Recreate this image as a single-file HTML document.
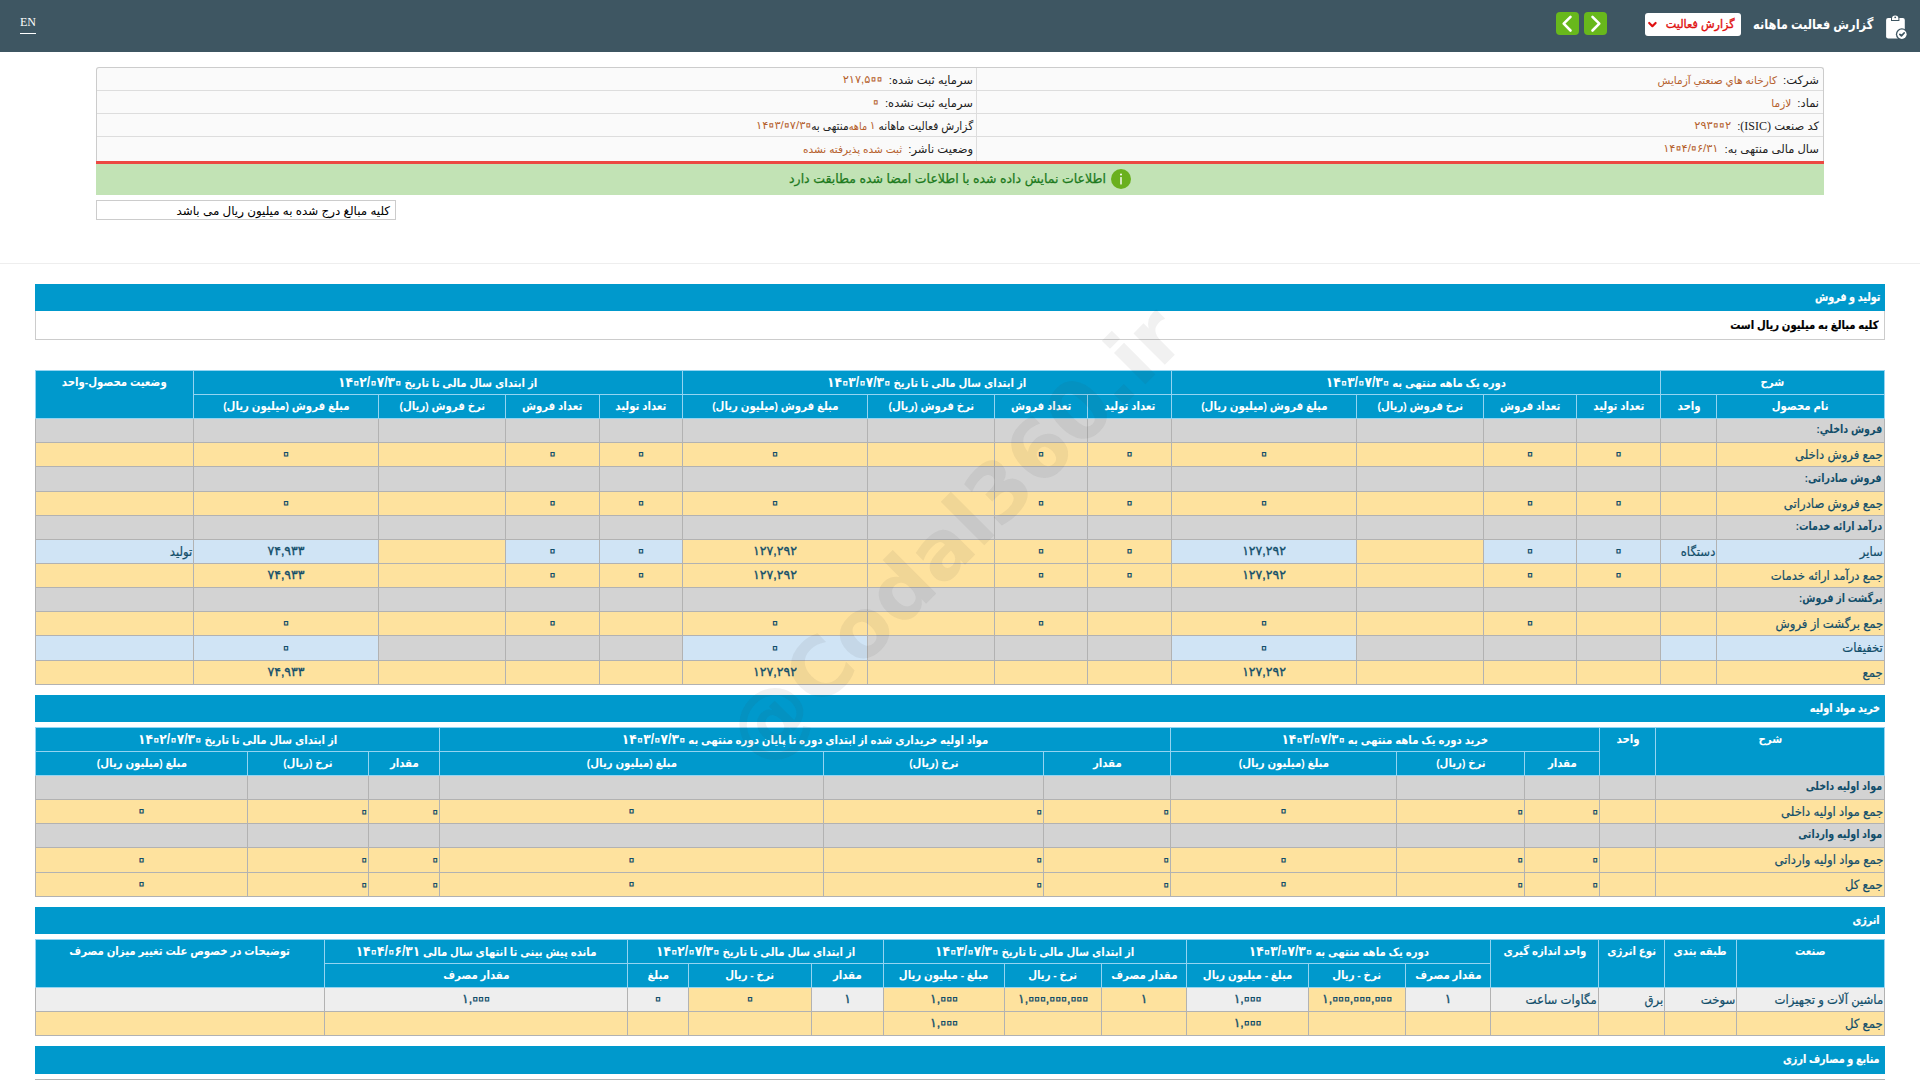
<!DOCTYPE html>
<html lang="fa" dir="rtl">
<head>
<meta charset="utf-8">
<title>گزارش فعالیت ماهانه</title>
<style>
*{box-sizing:border-box}
html,body{margin:0;padding:0}
body{width:1920px;height:1080px;overflow:hidden;background:#fff;position:relative;
 font-family:"Liberation Sans","DejaVu Sans",sans-serif;font-size:11.5px;color:#000;direction:rtl}
.abs{position:absolute}
#topbar{left:0;top:0;width:1920px;height:52px;background:#3e5662}
#title{right:47px;top:12.600px;height:24px;line-height:24px;color:#fff;font-size:13.5px;font-weight:bold;white-space:nowrap;transform:scaleX(.845);transform-origin:100% 50%}
#sel{left:1645px;top:13px;width:96px;height:23px;background:#fff;border-radius:3px;color:#e01010;font-size:11.5px;line-height:22px;text-align:right;padding-right:6px;white-space:nowrap}
#sel span{display:inline-block;-webkit-text-stroke:.35px #e01010;transform:scaleX(.975);transform-origin:100% 50%}
.nav{top:12px;width:23px;height:23px;background:#68b81c;border-radius:4px}
#en{left:20px;top:13px;width:16px;height:21px;border-bottom:1px solid #fff;color:#fff;font-family:"Liberation Serif",serif;font-size:12px;line-height:18px;text-align:center;direction:ltr}
#info{left:96px;top:67px;width:1728px;height:94px;border:1px solid #ccc;border-bottom:0;border-radius:3px 3px 0 0;background:#fafafa}
#info .r{position:absolute;left:0;right:0;height:23px;border-bottom:1px solid #ddd}
#info .c{position:absolute;top:0;height:22px;line-height:24px;white-space:nowrap;font-size:11.5px;color:#222;padding-right:4px;text-align:right}
#info .c1{right:0;width:846px}
#info .c2{right:847px;width:879px;padding-right:3px}
#info .d{position:absolute;right:846px;top:0;width:1px;height:93px;background:#ddd}
#info .v{color:#b5602c;font-size:10.5px}
#red{left:96px;top:161px;width:1728px;height:3px;background:#ec4842}
#green{left:96px;top:164px;width:1728px;height:31px;background:#c2e3b5;color:#1d7a1d;-webkit-text-stroke:.25px #1d7a1d;font-size:12.5px;line-height:30px;text-align:center;white-space:nowrap}
#note{left:96px;top:200px;width:300px;height:20px;border:1px solid #ccc;background:#fff;font-size:11.900px;line-height:20px;padding-right:5px;text-align:right;white-space:nowrap;color:#000}
#hr{left:0;top:263px;width:1920px;height:1px;background:#eee}
.sec{left:35px;width:1850px;height:27px;background:#0099cc;color:#fff;font-weight:bold;font-size:11.5px;line-height:26px;text-align:right;padding-right:5px;white-space:nowrap}
#desc{left:35px;top:311px;width:1850px;height:29px;border:1px solid #ccc;border-top:0;background:#fff;font-weight:bold;font-size:11.5px;line-height:29px;padding-right:5px;text-align:right;white-space:nowrap}
table.g{position:absolute;left:35px;width:1849px;border-collapse:collapse;table-layout:fixed;direction:rtl;font-size:11.5px;color:#124e6a}
table.g td,table.g th{border:1px solid #b2b2b2;padding:0 2px;line-height:19px;white-space:nowrap;overflow:hidden;font-weight:normal;text-align:center;vertical-align:middle}
table.g th[rowspan]{vertical-align:top;padding-top:2px}
table.g th{background:#0099cc;color:#fff;font-weight:bold;border-color:#94d4f1}
table.g td.y{background:#fee29e}
table.g td.g{background:#d3d3d3}
table.g td.b{background:#d0e4f5}
table.g td.e{background:#eeeeee}
table.g td.r{text-align:right}
table.g td.h{font-weight:bold}
.bw{display:inline-block;transform:scaleX(.83);transform-origin:100% 50%;white-space:nowrap}
td .bw{position:relative;top:-1px}
.tw{display:inline-block;font-size:12.600px;transform:scaleX(.927);transform-origin:100% 50%;white-space:nowrap;-webkit-text-stroke:.2px currentColor;position:relative;top:.7px;margin-right:-1px}
th .bw{transform-origin:50% 50%;transform:scaleX(.885)}
.sec .bw{transform:scaleX(.835);-webkit-text-stroke:.2px currentColor}
#desc .bw{transform:scaleX(.875);-webkit-text-stroke:.2px currentColor}
.n{font-size:12.500px;-webkit-text-stroke:.35px currentColor}
.z{font-size:2.300em;line-height:0;-webkit-text-fill-color:transparent;-webkit-text-stroke:.040em currentColor;vertical-align:-.142em;margin:0 -.1668em}
th .n{font-size:1.200em;-webkit-text-stroke:0}
th .z{font-size:1.400em;-webkit-text-stroke:.064em currentColor;vertical-align:-.150em;margin:0 -.115em}
#info .n{font-size:11.400px;-webkit-text-stroke:0;position:relative;top:-.6px}
#info .sq{display:inline-block;transform:scaleX(.925);transform-origin:100% 50%;margin-left:-13.600px}
#info .z{-webkit-text-stroke:.034em currentColor;margin:0 -.152em}
#wm{left:955px;top:535px;width:0;height:0;direction:ltr}
#wm span{position:absolute;left:-400px;top:-60px;width:800px;height:120px;line-height:120px;text-align:center;font-family:"DejaVu Sans","Liberation Sans",sans-serif;font-weight:bold;font-size:81px;color:rgba(60,60,60,.072);transform:rotate(-45deg);white-space:nowrap}
</style>
</head>
<body>
<div id="topbar" class="abs">
<svg class="abs" style="left:1880px;top:10px" width="32" height="32" viewBox="0 0 32 32">
<rect x="6.100" y="7.900" width="18.700" height="20.500" rx="2" fill="#fff"/>
<path d="M11 11V8.600a4.200 4.200 0 0 1 8.400 0V11z" fill="#3e5662"/>
<path d="M12 10V8.600a3.200 3.200 0 0 1 6.400 0V10z" fill="#fff"/>
<circle cx="15.200" cy="7.300" r=".9" fill="#3e5662"/>
<circle cx="21.900" cy="24.300" r="6" fill="#3e5662"/>
<circle cx="21.900" cy="24.300" r="4.700" fill="#fff"/>
<path d="M19.900 24.400l1.500 1.500 2.700-2.900" fill="none" stroke="#3e5662" stroke-width="1.800" stroke-linecap="round" stroke-linejoin="round"/>
</svg>
<div id="title" class="abs">گزارش فعالیت ماهانه</div>
<div id="sel" class="abs"><span>گزارش فعالیت</span><svg class="abs" style="left:2px;top:8px" width="11" height="8" viewBox="0 0 11 8"><path d="M2.200 2L5.400 5.200l3.200-3.200" fill="none" stroke="#e01010" stroke-width="2.200" stroke-linecap="round" stroke-linejoin="round"/></svg></div>
<div class="abs nav" style="left:1584px"><svg width="23" height="23" viewBox="0 0 23 23"><path d="M8.500 4.900l6.800 6.800-6.800 6.800" fill="none" stroke="#fff" stroke-width="2.600" stroke-linecap="round" stroke-linejoin="round"/></svg></div>
<div class="abs nav" style="left:1556px"><svg width="23" height="23" viewBox="0 0 23 23"><path d="M14.500 4.900l-6.800 6.800 6.800 6.800" fill="none" stroke="#fff" stroke-width="2.600" stroke-linecap="round" stroke-linejoin="round"/></svg></div>
<a id="en" class="abs">EN</a>
</div>

<div id="info" class="abs">
<div class="r" style="top:0"><div class="c c1">شرکت: <span class="v">&nbsp;کارخانه هاي صنعتي آزمايش</span></div><div class="c c2">سرمایه ثبت شده: <span class="v">&nbsp;<span class="n">۲۱۷,۵<span class="z">۰</span><span class="z">۰</span></span></span></div></div>
<div class="r" style="top:23px"><div class="c c1">نماد: <span class="v">&nbsp;لازما</span></div><div class="c c2">سرمایه ثبت نشده: <span class="v">&nbsp;<span class="n"><span class="z">۰</span></span></span></div></div>
<div class="r" style="top:46px"><div class="c c1">کد صنعت <span style="font-family:'Liberation Serif',serif;font-size:12px">(ISIC)</span>: <span class="v">&nbsp;<span class="n">۲۹۳<span class="z">۰</span><span class="z">۰</span>۲</span></span></div><div class="c c2"><span class="sq">گزارش فعالیت ماهانه <span class="v"><span class="n">۱</span> ماهه</span>&zwnj;منتهی به</span><span class="v"><span class="n">۱۴<span class="z">۰</span>۳/<span class="z">۰</span>۷/۳<span class="z">۰</span></span></span></div></div>
<div class="r" style="top:69px;border-bottom:0"><div class="c c1">سال مالی منتهی به: <span class="v">&nbsp;<span class="n">۱۴<span class="z">۰</span>۴/<span class="z">۰</span>۶/۳۱</span></span></div><div class="c c2">وضعیت ناشر: <span class="v">&nbsp;ثبت شده پذیرفته نشده</span></div></div>
<div class="d"></div>
</div>
<div id="red" class="abs"></div>
<div id="green" class="abs"><svg style="vertical-align:middle;margin-left:5px;position:relative;top:-1px" width="20" height="20" viewBox="0 0 20 20"><circle cx="10" cy="10" r="10" fill="#6ab01e"/><rect x="9.300" y="8" width="1.400" height="7.500" rx=".5" fill="#fff"/><circle cx="10" cy="5.500" r="1" fill="#fff"/></svg>اطلاعات نمایش داده شده با اطلاعات امضا شده مطابقت دارد</div>
<div id="note" class="abs">کلیه مبالغ درج شده به میلیون ریال می باشد</div>
<div id="hr" class="abs"></div>

<div class="abs sec" style="top:284px"><span class="bw">تولید و فروش</span></div>
<div id="desc" class="abs"><span class="bw">کلیه مبالغ به میلیون ریال است</span></div>
<table class="g" id="t1" style="top:370px">
<colgroup><col style="width:168px"><col style="width:56px"><col style="width:84px"><col style="width:93px"><col style="width:127px"><col style="width:185px"><col style="width:84px"><col style="width:93px"><col style="width:127px"><col style="width:185px"><col style="width:83px"><col style="width:94px"><col style="width:127px"><col style="width:185px"><col style="width:158px"></colgroup>
<thead>
<tr style="height:24px"><th colspan="2"><span class="bw">شرح</span></th><th colspan="4"><span class="bw">دوره یک ماهه منتهی به <span class="n">۱۴<span class="z">۰</span>۳/<span class="z">۰</span>۷/۳<span class="z">۰</span></span></span></th><th colspan="4"><span class="bw">از ابتدای سال مالی تا تاریخ <span class="n">۱۴<span class="z">۰</span>۳/<span class="z">۰</span>۷/۳<span class="z">۰</span></span></span></th><th colspan="4"><span class="bw">از ابتدای سال مالی تا تاریخ <span class="n">۱۴<span class="z">۰</span>۲/<span class="z">۰</span>۷/۳<span class="z">۰</span></span></span></th><th rowspan="2"><span class="bw">وضعیت محصول-واحد</span></th></tr>
<tr style="height:24px"><th><span class="bw">نام محصول</span></th><th><span class="bw">واحد</span></th><th><span class="bw">تعداد تولید</span></th><th><span class="bw">تعداد فروش</span></th><th><span class="bw">نرخ فروش (ریال)</span></th><th><span class="bw">مبلغ فروش (میلیون ریال)</span></th><th><span class="bw">تعداد تولید</span></th><th><span class="bw">تعداد فروش</span></th><th><span class="bw">نرخ فروش (ریال)</span></th><th><span class="bw">مبلغ فروش (میلیون ریال)</span></th><th><span class="bw">تعداد تولید</span></th><th><span class="bw">تعداد فروش</span></th><th><span class="bw">نرخ فروش (ریال)</span></th><th><span class="bw">مبلغ فروش (میلیون ریال)</span></th></tr>
</thead>
<tbody>
<tr style="height:24px"><td class="g r h"><span class="bw">فروش داخلي:</span></td><td class="g"></td><td class="g"></td><td class="g"></td><td class="g"></td><td class="g"></td><td class="g"></td><td class="g"></td><td class="g"></td><td class="g"></td><td class="g"></td><td class="g"></td><td class="g"></td><td class="g"></td><td class="g"></td></tr>
<tr style="height:24px"><td class="y r"><span class="tw">جمع فروش داخلی</span></td><td class="y"></td><td class="y"><span class="n"><span class="z">۰</span></span></td><td class="y"><span class="n"><span class="z">۰</span></span></td><td class="y"><span class="n"></span></td><td class="y"><span class="n"><span class="z">۰</span></span></td><td class="y"><span class="n"><span class="z">۰</span></span></td><td class="y"><span class="n"><span class="z">۰</span></span></td><td class="y"><span class="n"></span></td><td class="y"><span class="n"><span class="z">۰</span></span></td><td class="y"><span class="n"><span class="z">۰</span></span></td><td class="y"><span class="n"><span class="z">۰</span></span></td><td class="y"><span class="n"></span></td><td class="y"><span class="n"><span class="z">۰</span></span></td><td class="y r"></td></tr>
<tr style="height:25px"><td class="g r h"><span class="bw">فروش صادراتی:</span></td><td class="g"></td><td class="g"></td><td class="g"></td><td class="g"></td><td class="g"></td><td class="g"></td><td class="g"></td><td class="g"></td><td class="g"></td><td class="g"></td><td class="g"></td><td class="g"></td><td class="g"></td><td class="g"></td></tr>
<tr style="height:24px"><td class="y r"><span class="tw">جمع فروش صادراتی</span></td><td class="y"></td><td class="y"><span class="n"><span class="z">۰</span></span></td><td class="y"><span class="n"><span class="z">۰</span></span></td><td class="y"><span class="n"></span></td><td class="y"><span class="n"><span class="z">۰</span></span></td><td class="y"><span class="n"><span class="z">۰</span></span></td><td class="y"><span class="n"><span class="z">۰</span></span></td><td class="y"><span class="n"></span></td><td class="y"><span class="n"><span class="z">۰</span></span></td><td class="y"><span class="n"><span class="z">۰</span></span></td><td class="y"><span class="n"><span class="z">۰</span></span></td><td class="y"><span class="n"></span></td><td class="y"><span class="n"><span class="z">۰</span></span></td><td class="y r"></td></tr>
<tr style="height:24px"><td class="g r h"><span class="bw">درآمد ارائه خدمات:</span></td><td class="g"></td><td class="g"></td><td class="g"></td><td class="g"></td><td class="g"></td><td class="g"></td><td class="g"></td><td class="g"></td><td class="g"></td><td class="g"></td><td class="g"></td><td class="g"></td><td class="g"></td><td class="g"></td></tr>
<tr style="height:24px"><td class="b r"><span class="tw">سایر</span></td><td class="b r"><span class="tw">دستگاه</span></td><td class="b"><span class="n"><span class="z">۰</span></span></td><td class="b"><span class="n"><span class="z">۰</span></span></td><td class="y"></td><td class="b"><span class="n">۱۲۷,۲۹۲</span></td><td class="y"><span class="n"><span class="z">۰</span></span></td><td class="y"><span class="n"><span class="z">۰</span></span></td><td class="y"></td><td class="y"><span class="n">۱۲۷,۲۹۲</span></td><td class="b"><span class="n"><span class="z">۰</span></span></td><td class="b"><span class="n"><span class="z">۰</span></span></td><td class="y"></td><td class="b"><span class="n">۷۴,۹۳۳</span></td><td class="b r"><span class="tw">تولید</span></td></tr>
<tr style="height:24px"><td class="y r"><span class="tw">جمع درآمد ارائه خدمات</span></td><td class="y"></td><td class="y"><span class="n"><span class="z">۰</span></span></td><td class="y"><span class="n"><span class="z">۰</span></span></td><td class="y"><span class="n"></span></td><td class="y"><span class="n">۱۲۷,۲۹۲</span></td><td class="y"><span class="n"><span class="z">۰</span></span></td><td class="y"><span class="n"><span class="z">۰</span></span></td><td class="y"><span class="n"></span></td><td class="y"><span class="n">۱۲۷,۲۹۲</span></td><td class="y"><span class="n"><span class="z">۰</span></span></td><td class="y"><span class="n"><span class="z">۰</span></span></td><td class="y"><span class="n"></span></td><td class="y"><span class="n">۷۴,۹۳۳</span></td><td class="y r"></td></tr>
<tr style="height:24px"><td class="g r h"><span class="bw">برگشت از فروش:</span></td><td class="g"></td><td class="g"></td><td class="g"></td><td class="g"></td><td class="g"></td><td class="g"></td><td class="g"></td><td class="g"></td><td class="g"></td><td class="g"></td><td class="g"></td><td class="g"></td><td class="g"></td><td class="g"></td></tr>
<tr style="height:24px"><td class="y r"><span class="tw">جمع برگشت از فروش</span></td><td class="y"></td><td class="y"><span class="n"></span></td><td class="y"><span class="n"><span class="z">۰</span></span></td><td class="y"><span class="n"></span></td><td class="y"><span class="n"><span class="z">۰</span></span></td><td class="y"><span class="n"></span></td><td class="y"><span class="n"><span class="z">۰</span></span></td><td class="y"><span class="n"></span></td><td class="y"><span class="n"><span class="z">۰</span></span></td><td class="y"><span class="n"></span></td><td class="y"><span class="n"><span class="z">۰</span></span></td><td class="y"><span class="n"></span></td><td class="y"><span class="n"><span class="z">۰</span></span></td><td class="y r"></td></tr>
<tr style="height:25px"><td class="b r"><span class="tw">تخفیفات</span></td><td class="b"></td><td class="g"></td><td class="g"></td><td class="g"></td><td class="b"><span class="n"><span class="z">۰</span></span></td><td class="g"></td><td class="g"></td><td class="g"></td><td class="b"><span class="n"><span class="z">۰</span></span></td><td class="g"></td><td class="g"></td><td class="g"></td><td class="b"><span class="n"><span class="z">۰</span></span></td><td class="b"></td></tr>
<tr style="height:24px"><td class="y r"><span class="tw">جمع</span></td><td class="y"></td><td class="y"><span class="n"></span></td><td class="y"><span class="n"></span></td><td class="y"><span class="n"></span></td><td class="y"><span class="n">۱۲۷,۲۹۲</span></td><td class="y"><span class="n"></span></td><td class="y"><span class="n"></span></td><td class="y"><span class="n"></span></td><td class="y"><span class="n">۱۲۷,۲۹۲</span></td><td class="y"><span class="n"></span></td><td class="y"><span class="n"></span></td><td class="y"><span class="n"></span></td><td class="y"><span class="n">۷۴,۹۳۳</span></td><td class="y r"></td></tr>
</tbody>
</table>

<div class="abs sec" style="top:695px"><span class="bw">خرید مواد اولیه</span></div>
<table class="g" id="t2" style="top:727px">
<colgroup><col style="width:229px"><col style="width:56px"><col style="width:75px"><col style="width:128px"><col style="width:226px"><col style="width:127px"><col style="width:220px"><col style="width:384px"><col style="width:71px"><col style="width:121px"><col style="width:212px"></colgroup>
<thead>
<tr style="height:24px"><th rowspan="2"><span class="bw">شرح</span></th><th rowspan="2"><span class="bw">واحد</span></th><th colspan="3"><span class="bw">خرید دوره یک ماهه منتهی به <span class="n">۱۴<span class="z">۰</span>۳/<span class="z">۰</span>۷/۳<span class="z">۰</span></span></span></th><th colspan="3"><span class="bw">مواد اولیه خریداری شده از ابتدای دوره تا پایان دوره منتهی به <span class="n">۱۴<span class="z">۰</span>۳/<span class="z">۰</span>۷/۳<span class="z">۰</span></span></span></th><th colspan="3"><span class="bw">از ابتدای سال مالی تا تاریخ <span class="n">۱۴<span class="z">۰</span>۲/<span class="z">۰</span>۷/۳<span class="z">۰</span></span></span></th></tr>
<tr style="height:24px"><th><span class="bw">مقدار</span></th><th><span class="bw">نرخ (ریال)</span></th><th><span class="bw">مبلغ (میلیون ریال)</span></th><th><span class="bw">مقدار</span></th><th><span class="bw">نرخ (ریال)</span></th><th><span class="bw">مبلغ (میلیون ریال)</span></th><th><span class="bw">مقدار</span></th><th><span class="bw">نرخ (ریال)</span></th><th><span class="bw">مبلغ (میلیون ریال)</span></th></tr>
</thead>
<tbody>
<tr style="height:24px"><td class="g r h"><span class="bw">مواد اولیه داخلی</span></td><td class="g"></td><td class="g"></td><td class="g"></td><td class="g"></td><td class="g"></td><td class="g"></td><td class="g"></td><td class="g"></td><td class="g"></td><td class="g"></td></tr>
<tr style="height:24px"><td class="y r"><span class="tw">جمع مواد اولیه داخلی</span></td><td class="y"></td><td class="y r"><span class="tw"><span class="n"><span class="z">۰</span></span></span></td><td class="y r"><span class="tw"><span class="n"><span class="z">۰</span></span></span></td><td class="y"><span class="n"><span class="z">۰</span></span></td><td class="y r"><span class="tw"><span class="n"><span class="z">۰</span></span></span></td><td class="y r"><span class="tw"><span class="n"><span class="z">۰</span></span></span></td><td class="y"><span class="n"><span class="z">۰</span></span></td><td class="y r"><span class="tw"><span class="n"><span class="z">۰</span></span></span></td><td class="y r"><span class="tw"><span class="n"><span class="z">۰</span></span></span></td><td class="y"><span class="n"><span class="z">۰</span></span></td></tr>
<tr style="height:24px"><td class="g r h"><span class="bw">مواد اولیه وارداتی</span></td><td class="g"></td><td class="g"></td><td class="g"></td><td class="g"></td><td class="g"></td><td class="g"></td><td class="g"></td><td class="g"></td><td class="g"></td><td class="g"></td></tr>
<tr style="height:25px"><td class="y r"><span class="tw">جمع مواد اولیه وارداتی</span></td><td class="y"></td><td class="y r"><span class="tw"><span class="n"><span class="z">۰</span></span></span></td><td class="y r"><span class="tw"><span class="n"><span class="z">۰</span></span></span></td><td class="y"><span class="n"><span class="z">۰</span></span></td><td class="y r"><span class="tw"><span class="n"><span class="z">۰</span></span></span></td><td class="y r"><span class="tw"><span class="n"><span class="z">۰</span></span></span></td><td class="y"><span class="n"><span class="z">۰</span></span></td><td class="y r"><span class="tw"><span class="n"><span class="z">۰</span></span></span></td><td class="y r"><span class="tw"><span class="n"><span class="z">۰</span></span></span></td><td class="y"><span class="n"><span class="z">۰</span></span></td></tr>
<tr style="height:24px"><td class="y r"><span class="tw">جمع کل</span></td><td class="y"></td><td class="y r"><span class="tw"><span class="n"><span class="z">۰</span></span></span></td><td class="y r"><span class="tw"><span class="n"><span class="z">۰</span></span></span></td><td class="y"><span class="n"><span class="z">۰</span></span></td><td class="y r"><span class="tw"><span class="n"><span class="z">۰</span></span></span></td><td class="y r"><span class="tw"><span class="n"><span class="z">۰</span></span></span></td><td class="y"><span class="n"><span class="z">۰</span></span></td><td class="y r"><span class="tw"><span class="n"><span class="z">۰</span></span></span></td><td class="y r"><span class="tw"><span class="n"><span class="z">۰</span></span></span></td><td class="y"><span class="n"><span class="z">۰</span></span></td></tr>
</tbody>
</table>

<div class="abs sec" style="top:907px"><span class="bw">انرژی</span></div>
<table class="g" id="t3" style="top:939px">
<colgroup><col style="width:148px"><col style="width:72px"><col style="width:66px"><col style="width:108px"><col style="width:85px"><col style="width:97px"><col style="width:122px"><col style="width:85px"><col style="width:97px"><col style="width:121px"><col style="width:72px"><col style="width:123px"><col style="width:61px"><col style="width:303px"><col style="width:289px"></colgroup>
<thead>
<tr style="height:24px"><th rowspan="2"><span class="bw">صنعت</span></th><th rowspan="2"><span class="bw">طبقه بندی</span></th><th rowspan="2"><span class="bw">نوع انرژی</span></th><th rowspan="2"><span class="bw">واحد اندازه گیری</span></th><th colspan="3"><span class="bw">دوره یک ماهه منتهی به <span class="n">۱۴<span class="z">۰</span>۳/<span class="z">۰</span>۷/۳<span class="z">۰</span></span></span></th><th colspan="3"><span class="bw">از ابتدای سال مالی تا تاریخ <span class="n">۱۴<span class="z">۰</span>۳/<span class="z">۰</span>۷/۳<span class="z">۰</span></span></span></th><th colspan="3"><span class="bw">از ابتدای سال مالی تا تاریخ <span class="n">۱۴<span class="z">۰</span>۲/<span class="z">۰</span>۷/۳<span class="z">۰</span></span></span></th><th><span class="bw">مانده پیش بینی تا انتهای سال مالی <span class="n">۱۴<span class="z">۰</span>۴/<span class="z">۰</span>۶/۳۱</span></span></th><th rowspan="2"><span class="bw">توضیحات در خصوص علت تغییر میزان مصرف</span></th></tr>
<tr style="height:24px"><th><span class="bw">مقدار مصرف</span></th><th><span class="bw">نرخ - ریال</span></th><th><span class="bw">مبلغ - میلیون ریال</span></th><th><span class="bw">مقدار مصرف</span></th><th><span class="bw">نرخ - ریال</span></th><th><span class="bw">مبلغ - میلیون ریال</span></th><th><span class="bw">مقدار</span></th><th><span class="bw">نرخ - ریال</span></th><th><span class="bw">مبلغ</span></th><th><span class="bw">مقدار مصرف</span></th></tr>
</thead>
<tbody>
<tr style="height:24px"><td class="e r"><span class="tw">ماشین آلات و تجهیزات</span></td><td class="e r"><span class="tw">سوخت</span></td><td class="e r"><span class="tw">برق</span></td><td class="e r"><span class="tw">مگاوات ساعت</span></td><td class="e"><span class="n">۱</span></td><td class="y"><span class="n">۱,<span class="z">۰</span><span class="z">۰</span><span class="z">۰</span>,<span class="z">۰</span><span class="z">۰</span><span class="z">۰</span>,<span class="z">۰</span><span class="z">۰</span><span class="z">۰</span></span></td><td class="e"><span class="n">۱,<span class="z">۰</span><span class="z">۰</span><span class="z">۰</span></span></td><td class="y"><span class="n">۱</span></td><td class="y"><span class="n">۱,<span class="z">۰</span><span class="z">۰</span><span class="z">۰</span>,<span class="z">۰</span><span class="z">۰</span><span class="z">۰</span>,<span class="z">۰</span><span class="z">۰</span><span class="z">۰</span></span></td><td class="y"><span class="n">۱,<span class="z">۰</span><span class="z">۰</span><span class="z">۰</span></span></td><td class="e"><span class="n">۱</span></td><td class="y"><span class="n"><span class="z">۰</span></span></td><td class="e"><span class="n"><span class="z">۰</span></span></td><td class="e"><span class="n">۱,<span class="z">۰</span><span class="z">۰</span><span class="z">۰</span></span></td><td class="e"></td></tr>
<tr style="height:24px"><td class="y r"><span class="tw">جمع کل</span></td><td class="y"></td><td class="y"></td><td class="y"></td><td class="y"></td><td class="y"></td><td class="y"><span class="n">۱,<span class="z">۰</span><span class="z">۰</span><span class="z">۰</span></span></td><td class="y"></td><td class="y"></td><td class="y"><span class="n">۱,<span class="z">۰</span><span class="z">۰</span><span class="z">۰</span></span></td><td class="y"></td><td class="y"></td><td class="y"></td><td class="y"></td><td class="y"></td></tr>
</tbody>
</table>

<div class="abs sec" style="top:1046px;height:28px"><span class="bw">منابع و مصارف ارزی</span></div>
<div class="abs" style="left:35px;top:1079px;width:1850px;height:1px;background:#b2b2b2"></div>

<div id="wm" class="abs"><span>@Codal360.ir</span></div>
</body>
</html>
